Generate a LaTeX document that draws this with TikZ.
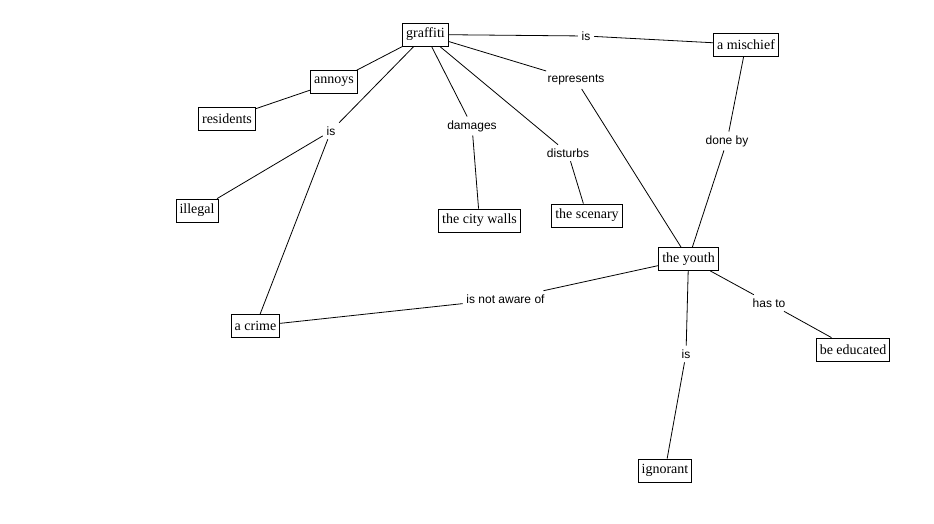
\documentclass[tikz,border=0pt]{standalone}
\usepackage{fontspec}
\setmainfont{Liberation Serif}
\setsansfont{Liberation Sans}
\tikzset{
    concept/.style={draw, line width=0.8pt, inner xsep=3.5pt, inner ysep=2pt,
        minimum height=23pt, font=\fontsize{14}{16}\selectfont},
    link/.style={inner sep=3.5pt, font=\sffamily\fontsize{12}{14}\selectfont}
}
\begin{document}
\begin{tikzpicture}[x=1pt,y=-1pt,line width=0.8pt]
        \useasboundingbox (0,0) rectangle (934,523);
        % Define the concepts
        \node[concept] (graffiti) at (425.5,34.5) {graffiti};
        \node[concept] (annoys) at (334,82) {annoys};
        \node[concept] (residents) at (227,118.5) {residents};
        \node[concept] (illegal) at (197,210.5) {illegal};
        \node[concept] (walls) at (479.5,220.5) {the city walls};
        \node[concept] (scenary) at (587,215.5) {the scenary};
        \node[concept] (mischief) at (746,44.5) {a mischief};
        \node[concept] (youth) at (688.5,259) {the youth};
        \node[concept] (crime) at (255.5,326) {a crime};
        \node[concept] (educated) at (853,349.5) {be educated};
        \node[concept] (ignorant) at (665,470.5) {ignorant};
        % Define the linking phrases
        \node[link] (isIllegal) at (331,131) {is};
        \node[link] (damages) at (472,126) {damages};
        \node[link] (disturbs) at (568,153) {disturbs};
        \node[link] (represents) at (576,80) {represents};
        \node[link] (isMischief) at (586,36) {is};
        \node[link] (doneBy) at (727,141) {done by};
        \node[link] (notAware) at (505.5,299) {is not aware of};
        \node[link] (hasTo) at (769,303) {has to};
        \node[link] (isIgnorant) at (686,354) {is};
        % Add connections
        \foreach \a/\b in {graffiti/annoys, annoys/residents,
                graffiti/isIllegal, isIllegal/illegal, isIllegal/crime,
                graffiti/damages, damages/walls,
                graffiti/disturbs, disturbs/scenary,
                graffiti/represents, represents/youth,
                graffiti/isMischief, isMischief/mischief,
                mischief/doneBy, doneBy/youth,
                youth/notAware, notAware/crime,
                youth/hasTo, hasTo/educated,
                youth/isIgnorant, isIgnorant/ignorant} {
            \draw (\a) -- (\b);
        }
        \end{tikzpicture}
\end{document}
